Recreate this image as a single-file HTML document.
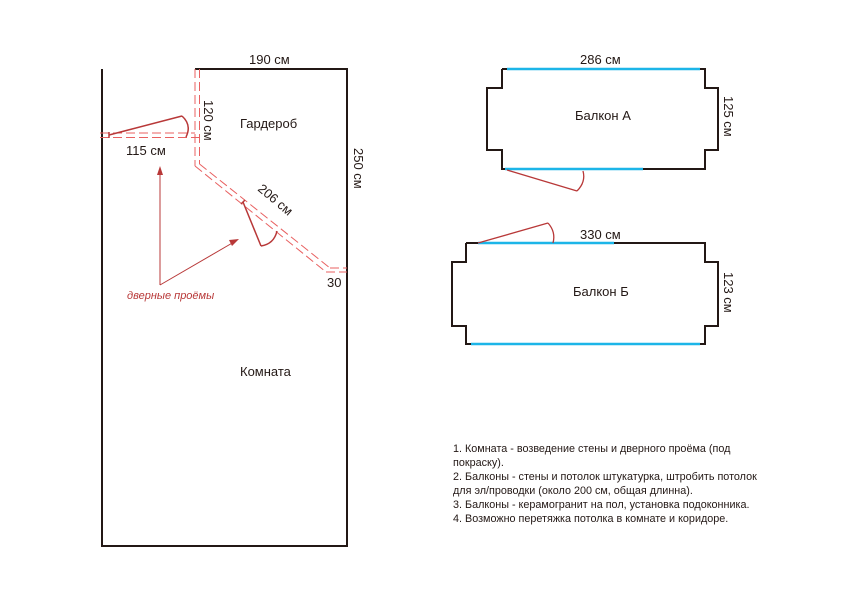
<!DOCTYPE html>
<html><head><meta charset="utf-8"><style>
body{margin:0;background:#fff}
svg text{font-family:"Liberation Sans",sans-serif}
</style></head><body>
<svg width="842" height="595" viewBox="0 0 842 595" xmlns="http://www.w3.org/2000/svg">
<g fill="none" stroke="#231815" stroke-width="2">
<polyline points="102,69 102,546 347,546 347,69 195,69"/>
</g>
<g fill="none" stroke="#e86060" stroke-width="1" stroke-dasharray="9,4">
<line x1="195" y1="69" x2="195" y2="166"/>
<line x1="199.5" y1="69" x2="199.5" y2="164"/>
<line x1="100" y1="133" x2="195" y2="133"/>
<line x1="100" y1="137.5" x2="199.5" y2="137.5"/>
<line x1="195" y1="166" x2="326" y2="272"/>
<line x1="199.5" y1="164" x2="330" y2="268"/>
<line x1="326" y1="272" x2="347" y2="272"/>
<line x1="330" y1="268" x2="347" y2="268"/>
</g>
<g fill="none" stroke="#b83838" stroke-width="1.5">
<line x1="109" y1="135" x2="182" y2="116"/>
<path d="M182,116 Q192,125 186,137"/>
<line x1="109" y1="132" x2="109" y2="138"/>
<line x1="243" y1="202" x2="261" y2="246"/>
<path d="M261,246 Q274,244 277,231"/>
<line x1="241" y1="204" x2="245" y2="200"/>
</g>
<g stroke="#b83838" stroke-width="1" fill="#b83838">
<line x1="160" y1="285" x2="160" y2="172"/>
<polygon points="160,166 157,175 163,175" stroke="none"/>
<line x1="160" y1="285" x2="234" y2="242"/>
<polygon points="239,239 229,240 232,246" stroke="none"/>
</g>
<text x="127" y="299" font-size="11" font-style="italic" fill="#b83838">дверные проёмы</text>
<g font-size="13" fill="#231815">
<text x="249" y="64">190 см</text>
<text x="240" y="128">Гардероб</text>
<text x="126" y="155">115 см</text>
<text x="240" y="376">Комната</text>
<text x="327" y="287">30</text>
<text transform="translate(204,100) rotate(90)">120 см</text>
<text transform="translate(354,148) rotate(90)">250 см</text>
<text transform="translate(257,190) rotate(40)">206 см</text>
<text x="580" y="64">286 см</text>
<text x="575" y="120">Балкон А</text>
<text transform="translate(724,96) rotate(90)">125 см</text>
<text x="580" y="239">330 см</text>
<text x="573" y="296">Балкон Б</text>
<text transform="translate(724,272) rotate(90)">123 см</text>
</g>
<g fill="none" stroke="#231815" stroke-width="2">
<polyline points="502,69 502,88 487,88 487,150 502,150 502,169 705,169 705,150 718,150 718,88 705,88 705,69 502,69"/>
<polyline points="466,243 466,262 452,262 452,326 466,326 466,344 705,344 705,326 718,326 718,262 705,262 705,243 466,243"/>
</g>
<g stroke="#1cb5e8" stroke-width="2.5">
<line x1="507" y1="69" x2="700" y2="69"/>
<line x1="505" y1="169" x2="643" y2="169"/>
<line x1="478" y1="243" x2="614" y2="243"/>
<line x1="471" y1="344" x2="700" y2="344"/>
</g>
<g fill="none" stroke="#b83838" stroke-width="1.3">
<line x1="507" y1="170" x2="577" y2="191"/>
<path d="M577,191 Q586,182 583,171"/>
<line x1="478" y1="243" x2="548" y2="223"/>
<path d="M548,223 Q556,232 553,243"/>
</g>
<g font-size="10.8" fill="#231815">
<text x="453" y="452">1. Комната - возведение стены и дверного проёма (под</text>
<text x="453" y="466">покраску).</text>
<text x="453" y="480">2. Балконы - стены и потолок штукатурка, штробить потолок</text>
<text x="453" y="494">для эл/проводки (около 200 см, общая длинна).</text>
<text x="453" y="508">3. Балконы - керамогранит на пол, установка подоконника.</text>
<text x="453" y="522">4. Возможно перетяжка потолка в комнате и коридоре.</text>
</g>
</svg>
</body></html>
